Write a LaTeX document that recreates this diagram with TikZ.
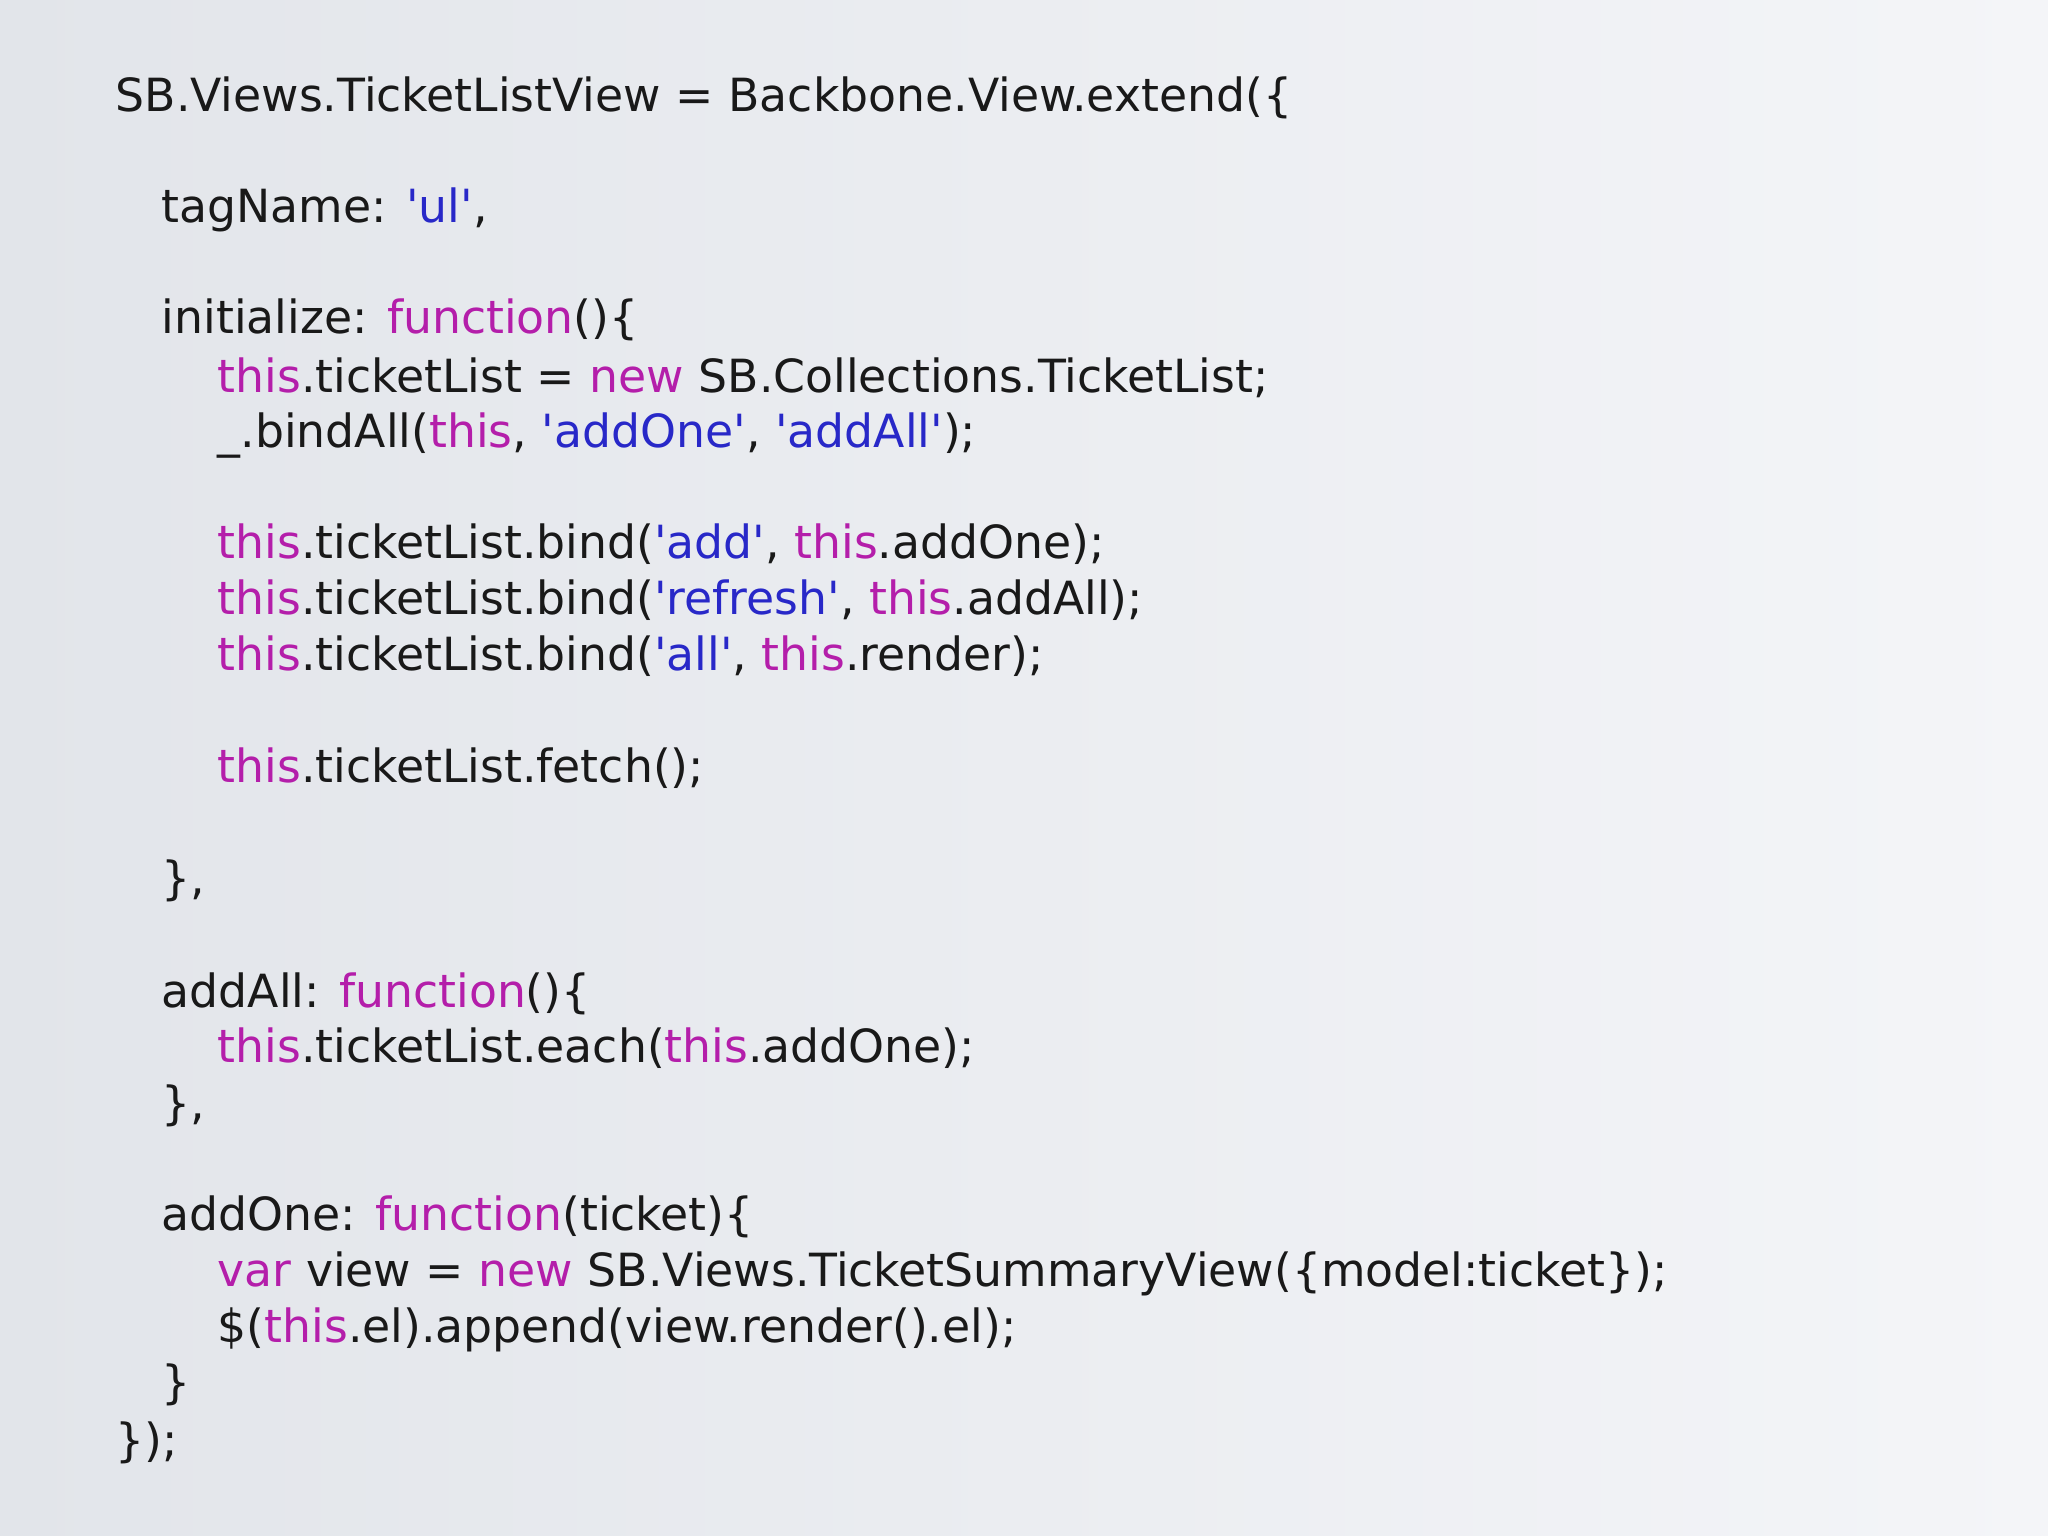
\documentclass[tikz,border=0pt]{standalone}
\usepackage{fontspec}
\newfontfamily\codefont{DejaVu Sans}
\definecolor{kw}{RGB}{180,30,170}
\definecolor{st}{RGB}{40,40,200}
\definecolor{bgA}{RGB}{226,229,234}
\definecolor{bgB}{RGB}{244,245,248}
\newcommand{\kw}[1]{\textcolor{kw}{#1}}
\newcommand{\st}[1]{\textcolor{st}{#1}}
\begin{document}
\begin{tikzpicture}[x=0.01cm,y=-0.01cm,
  codeline/.style={anchor=base west,inner sep=0pt,font=\codefont\fontsize{13pt}{15pt}\selectfont,text=black!90}]
\shade[left color=bgA,right color=bgB] (0,0) rectangle (2048,1536);
\useasboundingbox (0,0) rectangle (2048,1536);
\def\a{115}\def\b{161}\def\c{217}
\node[codeline] (l1) at (\a,111) {SB.Views.TicketListView = Backbone.View.extend(\{};
\node[codeline] (l2) at (\b,222) {tagName: \st{'ul'},};
\node[codeline] (l3) at (\b,333) {initialize: \kw{function}()\{};
\node[codeline] (l4) at (\c,392) {\kw{this}.ticketList = \kw{new} SB.Collections.TicketList;};
\node[codeline] (l5) at (\c,447) {\_.bindAll(\kw{this}, \st{'addOne'}, \st{'addAll'});};
\node[codeline] (l6) at (\c,558) {\kw{this}.ticketList.bind(\st{'add'}, \kw{this}.addOne);};
\node[codeline] (l7) at (\c,614) {\kw{this}.ticketList.bind(\st{'refresh'}, \kw{this}.addAll);};
\node[codeline] (l8) at (\c,670) {\kw{this}.ticketList.bind(\st{'all'}, \kw{this}.render);};
\node[codeline] (l9) at (\c,782) {\kw{this}.ticketList.fetch();};
\node[codeline] (l10) at (\b,894) {\},};
\node[codeline] (l11) at (\b,1007) {addAll: \kw{function}()\{};
\node[codeline] (l12) at (\c,1062) {\kw{this}.ticketList.each(\kw{this}.addOne);};
\node[codeline] (l13) at (\b,1119) {\},};
\node[codeline] (l14) at (\b,1230) {addOne: \kw{function}(ticket)\{};
\node[codeline] (l15) at (\c,1286) {\kw{var} view = \kw{new} SB.Views.TicketSummaryView(\{model:ticket\});};
\node[codeline] (l16) at (\c,1342) {\$(\kw{this}.el).append(view.render().el);};
\node[codeline] (l17) at (\b,1398) {\}};
\node[codeline] (l18) at (\a,1456) {\});};
\end{tikzpicture}
\end{document}
